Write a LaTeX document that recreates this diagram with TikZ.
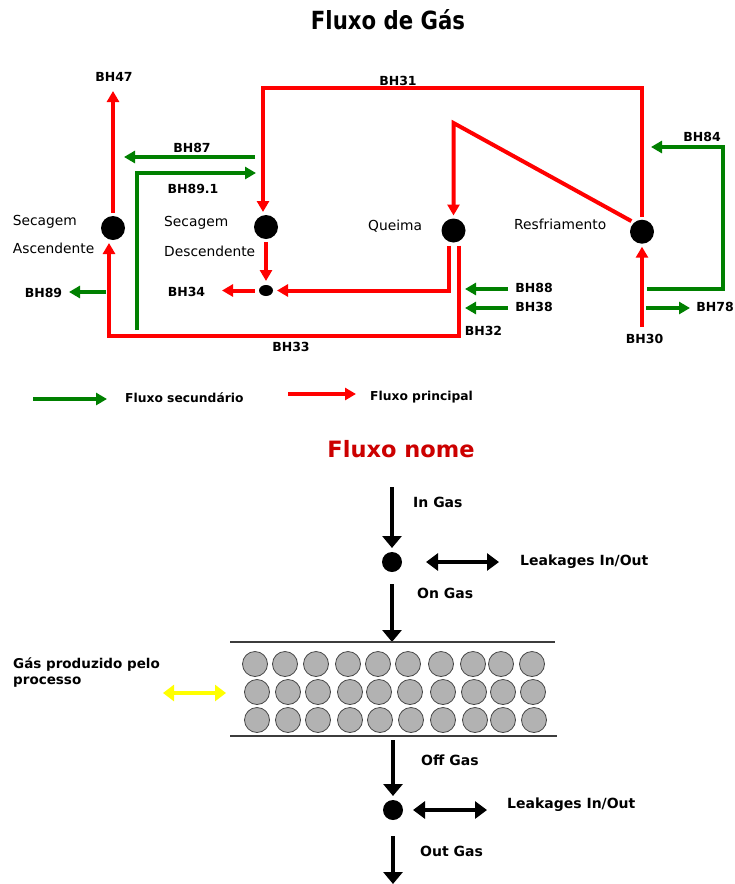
\documentclass[tikz,border=0pt]{standalone}
\usepackage{fontspec}
\setmainfont{DejaVu Sans}
\newfontfamily\titlefont{DejaVu Sans}[FakeStretch=0.85]
\usetikzlibrary{
    arrows.meta,
    positioning,
    shapes.geometric
}
\definecolor{mainflow}{RGB}{255,0,0}
\definecolor{secflow}{RGB}{0,128,0}
\definecolor{titlered}{RGB}{204,0,0}
\definecolor{pellet}{RGB}{178,178,178}
\definecolor{pelletedge}{RGB}{70,70,70}
\definecolor{bedgray}{RGB}{60,60,60}
\definecolor{exchange}{RGB}{255,255,0}
\tikzset{
    line join=miter,
    principal/.style={
        draw=mainflow,
        line width=4pt,
        -{Triangle[length=11pt, width=12pt]}
    },
    secundario/.style={
        draw=secflow,
        line width=4pt,
        -{Triangle[length=11pt, width=12pt]}
    },
    stage/.style={
        circle,
        fill=black,
        minimum size=24pt,
        inner sep=0pt,
        outer sep=3pt
    },
    junction/.style={
        ellipse,
        fill=black,
        minimum width=14pt,
        minimum height=11pt,
        inner sep=0pt,
        outer sep=4pt
    },
    gasdot/.style={
        circle,
        fill=black,
        minimum size=20pt,
        inner sep=0pt,
        outer sep=4pt
    },
    gasflow/.style={
        draw=black,
        line width=4.5pt,
        -{Triangle[length=12pt, width=19pt]}
    },
    leakage/.style={
        draw=black,
        line width=4.5pt,
        {Triangle[length=12pt, width=17pt]}-{Triangle[length=12pt, width=17pt]}
    },
    gasprod/.style={
        draw=exchange,
        line width=4.5pt,
        {Triangle[length=11pt, width=16pt]}-{Triangle[length=11pt, width=16pt]}
    },
    pelletball/.style={
        fill=pellet,
        draw=pelletedge,
        line width=0.8pt
    },
    bedline/.style={
        draw=bedgray,
        line width=1.2pt
    },
    bhlabel/.style={
        font=\bfseries\fontsize{12.5}{14}\selectfont,
        inner sep=0pt
    },
    stagetext/.style={
        font=\fontsize{13.8}{16}\selectfont,
        anchor=base west,
        inner sep=0pt
    },
    legendtext/.style={
        font=\bfseries\fontsize{12.3}{14}\selectfont,
        anchor=base west,
        inner sep=0pt
    },
    gastext/.style={
        font=\bfseries\fontsize{14}{16}\selectfont,
        anchor=base west,
        inner sep=0pt
    },
    maintitle/.style={
        font=\titlefont\bfseries\fontsize{25}{28}\selectfont,
        anchor=base,
        inner sep=0pt
    },
    subtitle/.style={
        font=\bfseries\fontsize{22.5}{26}\selectfont,
        text=titlered,
        anchor=base,
        inner sep=0pt
    }
}

\begin{document}
\begin{tikzpicture}[x=1pt, y=-1pt]

% Canvas
\path[use as bounding box, fill=white] (0,0) rectangle (734,884);

\node[maintitle] (titulo) at (388,29) {Fluxo de Gás};

% Stages
\node[stage] (asc) at (113,228) {};
\node[stage] (desc) at (266,227) {};
\node[stage] (queima) at (453.5,230.5) {};
\node[stage] (resf) at (642,231.7) {};
\node[junction] (junc) at (266,290.5) {};

\node[stagetext] (ascname) at (12.7,225) {Secagem};
\node[stagetext] (ascname2) at (12.7,253) {Ascendente};
\node[stagetext] (descname) at (164,226.5) {Secagem};
\node[stagetext] (descname2) at (164,256) {Descendente};
\node[stagetext] (queimaname) at (368,230.5) {Queima};
\node[stagetext] (resfname) at (514,229) {Resfriamento};

% Main flow (red)
\coordinate (bh47end) at (113,91);
\coordinate (bh31top) at (0,88);
\coordinate (bh34end) at (222,290.5);
\coordinate (bh33low) at (109,336);
\coordinate (apex) at (453.5,123);
\coordinate (bh30start) at (642,327);

\draw[principal] (asc.north) -- (bh47end);
\draw[principal] (resf.north) -- (resf.north |- bh31top) -| ([xshift=-3pt]desc.north);
\draw[principal] (desc.south) -- (junc.north);
\draw[principal] (junc.west) -- (bh34end);
\draw[principal] ([xshift=-5pt]queima.south) |- (junc.east);
\draw[principal] ([xshift=5.5pt]queima.south) |- (bh33low) -- ([xshift=-4pt]asc.south);
\draw[principal] (resf.north west) -- (apex) -- (queima.north);
\draw[principal] (bh30start) -- (resf.south);

% Secondary flow (green)
\coordinate (bh87start) at (255,157);
\coordinate (bh87end) at (124,157);
\coordinate (bh891start) at (137,330);
\coordinate (bh891end) at (256,173);
\coordinate (bh89start) at (106,292);
\coordinate (bh89end) at (69,292);
\coordinate (bh88start) at (508,289);
\coordinate (bh88end) at (465,289);
\coordinate (bh38start) at (508,308);
\coordinate (bh38end) at (465,308);
\coordinate (bh84start) at (647,289);
\coordinate (bh84corner) at (723,147);
\coordinate (bh84end) at (651,147);
\coordinate (bh78start) at (646,308);
\coordinate (bh78end) at (690,308);

\draw[secundario] (bh87start) -- (bh87end);
\draw[secundario] (bh891start) |- (bh891end);
\draw[secundario] (bh89start) -- (bh89end);
\draw[secundario] (bh88start) -- (bh88end);
\draw[secundario] (bh38start) -- (bh38end);
\draw[secundario] (bh84start) -| (bh84corner) -- (bh84end);
\draw[secundario] (bh78start) -- (bh78end);

% Stream labels
\node[bhlabel] (lbh47) at (114,76.5) {BH47};
\node[bhlabel] (lbh31) at (398,80.5) {BH31};
\node[bhlabel] (lbh87) at (192,147.5) {BH87};
\node[bhlabel] (lbh891) at (193,189) {BH89.1};
\node[bhlabel] (lbh89) at (43.5,293) {BH89};
\node[bhlabel] (lbh34) at (186.5,292) {BH34};
\node[bhlabel] (lbh33) at (291,346.5) {BH33};
\node[bhlabel] (lbh32) at (483.5,330.5) {BH32};
\node[bhlabel] (lbh88) at (534,288) {BH88};
\node[bhlabel] (lbh38) at (534,306.5) {BH38};
\node[bhlabel] (lbh84) at (702,137) {BH84};
\node[bhlabel] (lbh78) at (715,307) {BH78};
\node[bhlabel] (lbh30) at (644.5,338.5) {BH30};

% Legend
\coordinate (legsecA) at (33,399);
\coordinate (legsecB) at (107,399);
\coordinate (legprinA) at (288,394);
\coordinate (legprinB) at (356,394);
\draw[secundario] (legsecA) -- (legsecB);
\node[legendtext] (legsec) at (125,402.7) {Fluxo secundário};
\draw[principal] (legprinA) -- (legprinB);
\node[legendtext] (legprin) at (370,400.5) {Fluxo principal};

% Gas through the bed
\node[subtitle] (nome) at (401,457) {Fluxo nome};

\coordinate (ingas) at (392,487);
\node[gasdot] (gastop) at (392,562) {};
\draw[gasflow] (ingas) -- (gastop.north);
\node[gastext] (ingastext) at (413,507) {In Gas};
\draw[leakage] ([xshift=20pt]gastop.east) -- ([xshift=93pt]gastop.east);
\node[gastext] (leaktop) at (520,565) {Leakages In/Out};

\coordinate (bedNW) at (230,642);
\coordinate (bedNE) at (555,642);
\coordinate (bedSW) at (230,736);
\coordinate (bedSE) at (557,736);
\draw[gasflow, shorten <=8pt] (gastop.south) -- (gastop.south |- bedNW);
\node[gastext] (ongastext) at (417,598) {On Gas};

\draw[bedline] (bedNW) -- (bedNE);
\draw[bedline] (bedSW) -- (bedSE);
\foreach \x in {255,285,316,348,378,408,441,473,501,532}
    \draw[pelletball] (\x,664) circle[radius=12.5pt];
\foreach \x in {257,288,318,350,379,410,443,474,503,533}
    \draw[pelletball] (\x,692) circle[radius=12.5pt];
\foreach \x in {257,288,318,350,380,411,443,475,503,534}
    \draw[pelletball] (\x,720) circle[radius=12.5pt];

\coordinate (gasprodA) at (163,693);
\coordinate (gasprodB) at (226,693);
\draw[gasprod] (gasprodA) -- (gasprodB);
\node[gastext, font=\bfseries\fontsize{13.5}{16}\selectfont, anchor=north west, align=left] (gasprodtext) at (13,657) {Gás produzido pelo\\processo};

\node[gasdot] (gasbot) at (393,810) {};
\draw[gasflow, shorten <=4pt] (gasbot |- bedSW) -- (gasbot.north);
\node[gastext] (offgastext) at (421,765) {Off Gas};
\draw[leakage] ([xshift=6pt]gasbot.east) -- ([xshift=80pt]gasbot.east);
\node[gastext] (leakbot) at (507,808) {Leakages In/Out};
\coordinate (outgas) at (393,884);
\draw[gasflow, shorten <=12pt] (gasbot.south) -- (outgas);
\node[gastext] (outgastext) at (420,856) {Out Gas};

\end{tikzpicture}
\end{document}
